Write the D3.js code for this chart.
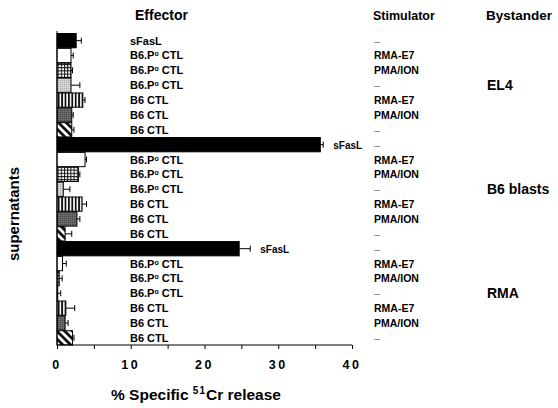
<!DOCTYPE html>
<html><head><meta charset="utf-8">
<script src="https://cdn.jsdelivr.net/npm/d3@7"></script>
<style>
body{margin:0;background:#fff;}
svg{display:block;font-family:"Liberation Sans",Arial,Helvetica,sans-serif;font-weight:bold;}
</style></head>
<body><svg id="chart" width="558" height="408"></svg>
<script>
// ---- data ----
const effectors = ["sFasL","B6.Pº CTL","B6.Pº CTL","B6.Pº CTL","B6 CTL","B6 CTL","B6 CTL",
                   "sFasL","B6.Pº CTL","B6.Pº CTL","B6.Pº CTL","B6 CTL","B6 CTL","B6 CTL",
                   "sFasL","B6.Pº CTL","B6.Pº CTL","B6.Pº CTL","B6 CTL","B6 CTL","B6 CTL"];
const stimulators = ["–","RMA-E7","PMA/ION","–","RMA-E7","PMA/ION","–",
                     "–","RMA-E7","PMA/ION","–","RMA-E7","PMA/ION","–",
                     "–","RMA-E7","PMA/ION","–","RMA-E7","PMA/ION","–"];
const bystanders = ["EL4","B6 blasts","RMA"];
const values = [2.6,1.9,1.9,1.9,3.5,2.0,2.0,
                35.7,3.8,2.9,0.85,3.4,2.7,1.1,
                24.7,0.75,0.3,0.1,1.2,1.1,2.1];
const errors = [0.7,0.3,0.2,1.2,0.3,0.2,0.3,
                0.4,0.2,0.2,0.9,0.6,0.4,0.9,
                1.5,0.5,0.4,0.4,1.2,0.4,0.2];
const fills = ["black","white","grid","light","vstripe","dark","diag",
               "black","white","grid","light","vstripe","dark","diag",
               "black","white","grid","light","vstripe","dark","diag"];
const xTicks = [0,10,20,30,40];

const svg = d3.select("#chart");
const defs = svg.append("defs");
// patterns
let p = defs.append("pattern").attr("id","grid").attr("patternUnits","userSpaceOnUse").attr("width",3.2).attr("height",3.2);
p.append("rect").attr("width",3.2).attr("height",3.2).attr("fill","#fff");
p.append("rect").attr("width",3.2).attr("height",1).attr("fill","#111");
p.append("rect").attr("width",1).attr("height",3.2).attr("fill","#111");
p = defs.append("pattern").attr("id","light").attr("patternUnits","userSpaceOnUse").attr("width",2).attr("height",2);
p.append("rect").attr("width",2).attr("height",2).attr("fill","#d4d4d4");
p.append("rect").attr("width",1).attr("height",1).attr("fill","#aaa");
p = defs.append("pattern").attr("id","vstripe").attr("patternUnits","userSpaceOnUse").attr("width",3.4).attr("height",4);
p.append("rect").attr("width",3.4).attr("height",4).attr("fill","#fff");
p.append("rect").attr("width",1.8).attr("height",4).attr("fill","#111");
p = defs.append("pattern").attr("id","dark").attr("patternUnits","userSpaceOnUse").attr("width",2).attr("height",2);
p.append("rect").attr("width",2).attr("height",2).attr("fill","#6a6a6a");
p.append("rect").attr("width",1).attr("height",1).attr("fill","#444");
p = defs.append("pattern").attr("id","diag").attr("patternUnits","userSpaceOnUse").attr("width",5.5).attr("height",5.5)
  .attr("patternTransform","rotate(45)");
p.append("rect").attr("width",5.5).attr("height",5.5).attr("fill","#fff");
p.append("rect").attr("width",5.5).attr("height",2.8).attr("fill","#111");
const fillOf = f => f==="black" ? "#000" : f==="white" ? "#fff" : `url(#${f})`;

const x = d3.scaleLinear().domain([0,40]).range([57,352]);
const rows = d3.range(values.length);
const y = d3.scaleBand().domain(rows).range([33.5,345]).paddingInner(0.04);

// bars
svg.append("g").selectAll("rect").data(rows).join("rect")
  .attr("x", x(0)).attr("y", i => y(i)).attr("height", y.bandwidth())
  .attr("width", i => x(values[i]) - x(0))
  .attr("fill", i => fillOf(fills[i])).attr("stroke","#000").attr("stroke-width",1);

// error bars
const eb = svg.append("g").attr("stroke","#000").attr("stroke-width",1);
rows.forEach(i => {
  const cy = y(i) + y.bandwidth()/2;
  eb.append("line").attr("x1", x(values[i])).attr("x2", x(values[i]+errors[i])).attr("y1",cy).attr("y2",cy);
  eb.append("line").attr("x1", x(values[i]+errors[i])).attr("x2", x(values[i]+errors[i])).attr("y1",cy-3).attr("y2",cy+3);
});

// axes
const xAxis = d3.axisBottom(x).tickValues(d3.range(0,41,5)).tickSize(4).tickFormat("");
const gx = svg.append("g").attr("transform","translate(0,345)").call(xAxis);
gx.select(".domain").attr("stroke","#000").attr("d","M"+x(0)+",0H"+x(40));
svg.append("g").selectAll("text").data(xTicks).join("text")
  .attr("x", d => x(d)).attr("y", 369).attr("text-anchor","middle")
  .attr("font-size",12.5).attr("letter-spacing", 2.5).text(d => d);
svg.append("line").attr("x1",x(0)).attr("x2",x(0)).attr("y1",31).attr("y2",345).attr("stroke","#000");

// effector labels
const eff = svg.append("g").attr("font-size",11);
rows.forEach(i => {
  const cy = y(i) + y.bandwidth()/2 + 4;
  const big = effectors[i]==="sFasL" && values[i] > 10;
  const t = eff.append("text").attr("x", big ? x(values[i]+errors[i]) + 10 : 130).attr("y", cy)
    .attr("font-size", big ? 10 : 11);
  if (effectors[i].includes("º")) {
    t.append("tspan").text("B6.P");
    t.append("tspan").attr("font-size",7).attr("dy",-3).text("o");
    t.append("tspan").attr("dy",3).text(" CTL");
  } else t.text(effectors[i]);
});

// stimulator labels
svg.append("g").attr("font-size",10.5).selectAll("text").data(rows).join("text")
  .attr("x",374).attr("y", i => y(i) + y.bandwidth()/2 + 4)
  .attr("fill", i => stimulators[i]==="–" ? "#777" : "#000")
  .attr("font-weight", i => stimulators[i]==="–" ? "normal" : "bold")
  .text(i => stimulators[i]);

// bystander labels
svg.append("g").attr("font-size",14).selectAll("text").data(bystanders).join("text")
  .attr("x",487).attr("y",(d,k) => y(k*7+3) + y.bandwidth()/2 + 5).text(d => d);

// headers
svg.append("text").attr("x",135).attr("y",20).attr("font-size",14).text("Effector");
svg.append("text").attr("x",373).attr("y",20).attr("font-size",12.5).text("Stimulator");
svg.append("text").attr("x",486).attr("y",20).attr("font-size",13.5).text("Bystander");

// axis titles
const xt = svg.append("text").attr("x",111).attr("y",400).attr("font-size",15.5);
xt.append("tspan").text("% Specific ");
xt.append("tspan").attr("font-size",10).attr("dy",-6).attr("letter-spacing",1).text("51");
xt.append("tspan").attr("dy",6).text("Cr release");
svg.append("text").attr("transform","translate(19,214) rotate(-90)").attr("text-anchor","middle")
  .attr("font-size",15).text("supernatants");
</script></body></html>
